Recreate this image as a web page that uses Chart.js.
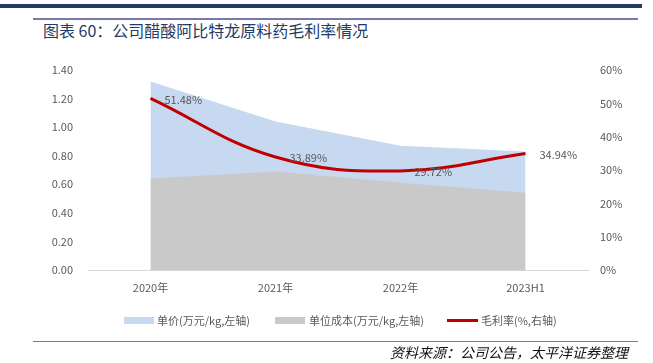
<!DOCTYPE html>
<html><head><meta charset="utf-8">
<script src="https://cdn.jsdelivr.net/npm/chart.js@4"></script>
<style>
html,body{margin:0;padding:0;background:#fff;width:653px;height:363px;overflow:hidden;position:relative;font-family:"Noto Sans CJK SC",sans-serif;}
#topbar{position:absolute;left:0;top:4px;width:642px;height:4px;background:#1F3B66;}
#subbar{position:absolute;left:33px;top:18px;width:605px;height:2px;background:#7A78A8;}
#title{position:absolute;left:43px;top:19px;font-size:16px;color:#1F3B66;white-space:nowrap;line-height:22px;}
#botbar{position:absolute;left:33px;top:341px;width:605px;height:1px;background:#7A78A8;}
#source{position:absolute;left:390px;top:343px;font-size:14px;font-style:italic;color:#111;white-space:nowrap;line-height:18px;}
#wrap{position:absolute;left:0;top:0;width:653px;height:363px;}
.leg{position:absolute;top:312px;font-size:11px;color:#595959;white-space:nowrap;line-height:16px;}
.sw{position:absolute;}
</style></head><body>
<div id="topbar"></div><div id="subbar"></div>
<div id="title">图表 60：公司醋酸阿比特龙原料药毛利率情况</div>
<div id="wrap"><canvas id="c" width="653" height="363"></canvas></div>
<div class="sw" style="left:124px;top:317px;width:30px;height:7px;background:#C6D9F0"></div>
<div class="leg" style="left:157px">单价(万元/kg,左轴)</div>
<div class="sw" style="left:275px;top:317px;width:30px;height:7px;background:#C9C9C9"></div>
<div class="leg" style="left:309px">单位成本(万元/kg,左轴)</div>
<div class="sw" style="left:447px;top:319px;width:31px;height:3px;background:#C00000"></div>
<div class="leg" style="left:481px">毛利率(%,右轴)</div>
<div id="botbar"></div>
<div id="source">资料来源：公司公告，太平洋证券整理</div>
<script>
const categories = ["2020年", "2021年", "2022年", "2023H1"];
const unitPrice = [1.32, 1.04, 0.87, 0.83];
const unitCost = [0.64, 0.69, 0.61, 0.54];
const grossMargin = [51.48, 33.89, 29.72, 34.94];
const leftTicks = [0, 0.2, 0.4, 0.6, 0.8, 1.0, 1.2, 1.4];
const rightTicks = [0, 10, 20, 30, 40, 50, 60];

const labelPlugin = {
  id: 'marginLabels',
  afterDatasetsDraw(chart) {
    const meta = chart.getDatasetMeta(2);
    const ctx = chart.ctx;
    ctx.save();
    ctx.font = '11px "Noto Sans CJK SC", sans-serif';
    ctx.fillStyle = '#595959';
    ctx.textAlign = 'left';
    ctx.textBaseline = 'middle';
    meta.data.forEach((pt, i) => {
      ctx.fillText(grossMargin[i].toFixed(2) + '%', pt.x + 14, pt.y + 1);
    });
    ctx.restore();
  }
};

const tickFont = {family: '"Noto Sans CJK SC", sans-serif', size: 11};
new Chart(document.getElementById('c'), {
  type: 'line',
  data: {
    labels: categories,
    datasets: [
      {label: '单价(万元/kg,左轴)', data: unitPrice, yAxisID: 'y', fill: 'origin',
       backgroundColor: '#C6D9F0', borderWidth: 0, pointRadius: 0, tension: 0, order: 2},
      {label: '单位成本(万元/kg,左轴)', data: unitCost, yAxisID: 'y', fill: 'origin',
       backgroundColor: '#C9C9C9', borderWidth: 0, pointRadius: 0, tension: 0, order: 1},
      {label: '毛利率(%,右轴)', data: grossMargin, yAxisID: 'y1', fill: false,
       borderColor: '#C00000', backgroundColor: '#C00000', borderWidth: 3, pointRadius: 0,
       tension: 0.4, order: 0}
    ]
  },
  options: {
    responsive: false, animation: false, devicePixelRatio: 1,
    layout: {padding: {left: 0, right: 0, top: 70, bottom: 63}},
    plugins: {legend: {display: false}, tooltip: {enabled: false}},
    scales: {
      x: {
        offset: true,
        grid: {display: false, drawTicks: false},
        border: {display: true, color: '#D9D9D9', width: 1},
        ticks: {color: '#595959', font: tickFont, padding: 11, maxRotation: 0},
        afterFit(s) { s.height = 30; }
      },
      y: {
        position: 'left', min: 0, max: 1.4,
        afterBuildTicks(s) { s.ticks = leftTicks.map(v => ({value: v})); },
        grid: {display: false, drawTicks: false},
        border: {display: false},
        ticks: {color: '#595959', font: tickFont, padding: 15, callback: v => v.toFixed(2)},
        afterFit(s) { s.width = 88; }
      },
      y1: {
        position: 'right', min: 0, max: 60,
        afterBuildTicks(s) { s.ticks = rightTicks.map(v => ({value: v})); },
        grid: {display: false, drawTicks: false},
        border: {display: false},
        ticks: {color: '#595959', font: tickFont, padding: 12, callback: v => v + '%'},
        afterFit(s) { s.width = 65; }
      }
    }
  },
  plugins: [labelPlugin]
});
</script>
</body></html>
